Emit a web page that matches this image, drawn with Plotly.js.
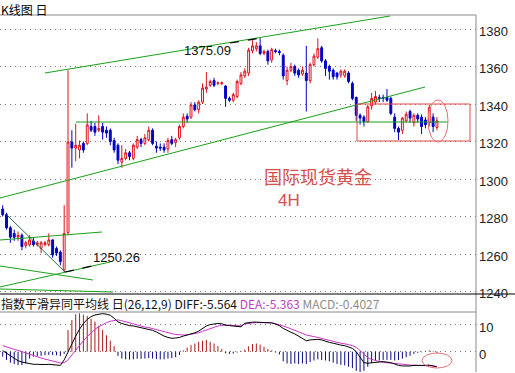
<!DOCTYPE html>
<html><head><meta charset="utf-8">
<script src="https://cdn.plot.ly/plotly-3.0.1.min.js"></script>
<style>html,body{margin:0;padding:0;background:#fff;overflow:hidden}#chart{width:515px;height:373px}</style>
</head><body><div id="chart"></div>
<script>
// ---- price data (4H candles) ----
const openP=[1284,1281,1274,1271,1269,1270,1264.5,1265,1267,1265,1263,1265,1265,1267.5,1263,1261,1251.5,1271.5,1319.7,1316.5,
1315.5,1319,1319,1328,1328,1326,1328,1326,1326,1320.5,1318,1309,1311,1314,1311,1317,1321,1319,1321,1326,
1317.5,1317,1317,1316,1321,1319.5,1322,1328,1333.5,1333,1339.5,1337,1341,1348,1350,1352.5,1351,1351,1349.6,1343,
1342,1344,1351,1355,1356.5,1368.5,1369.5,1371,1367,1368,1363.5,1368.5,1368,1366,1352.5,1358,1360,1358,1356,1356.5,
1352.5,1361,1365,1370,1363,1360,1358,1356.5,1355.5,1355,1356.5,1351,1343.5,1334,1333,1330.5,1339,1341,1343.5,1343.5,
1343.5,1343,1333,1327,1326,1331,1336,1330,1334,1333,1331.5,1330,1333,1327.5];
const highP=[1286,1282,1275,1273,1272,1271,1267,1270,1269,1267,1267,1267,1271,1268,1264,1262,1286,1358,1326,1329.5,
1320.5,1320,1335,1331,1330,1334,1330,1328,1327,1322,1319,1318,1316,1315,1319,1323,1322,1324,1328,1327,
1320,1319,1319,1322,1323,1322,1329,1335,1335,1341,1341,1342,1351,1357,1353,1354,1352,1352,1350,1344,
1346,1353,1357,1359,1370,1374,1373,1375.09,1369,1369,1370,1369.5,1369,1367,1360,1362,1361,1359,1360,1371,
1362,1367,1375,1371,1364,1361,1359,1357,1358.5,1358.5,1357.5,1352,1344,1335,1334,1339.5,1346,1347,1345,1345,
1348,1344,1335,1328,1333,1336,1337,1335,1335,1334.5,1333,1339.5,1335,1333];
const lowP=[1280,1273,1266,1267,1267,1262,1263,1264,1264,1264,1260.5,1264,1264,1258,1259,1254,1250.26,1270,1306,1309.5,
1311,1314,1318,1325,1323,1325,1321,1322,1318,1314,1308,1306,1310,1310,1310,1316,1317,1318,1320,1318,
1314,1315,1314,1314,1318,1317,1321,1327,1330,1332,1336,1335,1340,1346,1349,1349,1350,1350,1338.5,1341,
1341,1343,1350,1354,1355,1367,1368,1366,1366,1361,1362,1367,1366,1353,1350,1357,1355,1354,1355,1336,
1351,1360,1364,1362,1355,1353,1353,1353,1354,1354,1351,1342,1331,1329,1328,1330,1337,1340,1341,1341,
1341,1334,1325,1320.8,1324,1330,1330,1328,1330,1324,1327,1328,1325,1326];
const closeP=[1281,1274,1269,1269,1270,1264,1266,1267.5,1265,1266,1266,1266,1267.5,1259.5,1260.5,1256,1271,1319.7,1316.5,1318,
1318,1315.5,1328.8,1326,1325,1327,1325,1324.5,1320,1315.5,1310,1311,1314,1312,1318,1321,1319,1322,1326,1319,
1316.5,1316.5,1315.5,1320.5,1319,1321,1328,1333,1332,1339.5,1337,1341,1348.5,1349,1352,1350,1351.2,1351.3,1343,1342,
1345,1352,1355.5,1357.5,1368.8,1371,1371,1367,1368,1363,1369,1368,1367.5,1355,1358,1360,1356.5,1355.5,1358,1352.5,
1361,1365.5,1369.5,1363,1359,1357.5,1354.5,1354.5,1357.5,1357.5,1352,1343,1334,1332.5,1330.5,1338.5,1343,1344,1343,1343,
1342,1335,1327,1325,1332.5,1334.5,1332.5,1334,1332,1328,1329,1338,1328,1331];
// ---- MACD (26,12,9) ----
const diffV=[0.4,-0.6,-1.6,-2.6,-3.3,-3.8,-4.1,-4.5,-4.6,-4.6,-4.7,-4.7,-4.6,-4.7,-4.9,-5.0,-3.0,0,3.0,5.7,
8.2,10.3,11.8,12.8,13.4,13.7,13.9,13.7,13.3,12.2,10.9,10.3,9.9,9.5,9.4,9.1,8.9,8.5,8.3,7.8,
7.2,6.4,5.7,5.2,4.9,5.0,5.2,5.7,6.1,6.4,6.9,7.5,8.4,9.4,9.9,10.2,10.3,10.2,9.7,9.5,
9.4,9.1,9.1,10.4,10.7,10.8,10.8,10.7,10.7,10.6,10.5,10.1,9.5,8.5,7.7,7.1,6.5,5.7,4.9,4.0,
4.3,4.5,4.5,4.3,3.8,3.4,3.1,2.7,2.4,2.2,1.8,1.2,0,-2.1,-4.0,-4.2,-4.0,-3.8,-3.6,-3.6,
-3.8,-4.0,-4.5,-5.0,-5.2,-5.3,-5.2,-5.0,-4.9,-5.0,-5.0,-4.9,-5.2,-5.564];
const deaV=[2.2,1.7,1.3,0.85,0.5,0,-0.5,-1.0,-1.45,-1.95,-2.3,-2.7,-3.0,-3.4,-3.8,-4.1,-4.0,-3.0,-1.2,0.6,
2.4,4.0,5.5,6.9,8.2,9.1,10.0,10.6,11.1,11.4,11.6,11.3,10.9,10.6,10.1,9.7,9.4,9.0,8.8,8.4,
8.0,7.7,7.3,6.9,6.6,6.3,6.1,6.1,6.1,6.3,6.6,6.9,7.4,7.9,8.4,8.9,9.4,9.6,9.7,9.7,
9.6,9.5,9.4,10.1,10.4,10.5,10.6,10.6,10.6,10.6,10.6,10.2,9.9,9.4,8.9,8.4,7.9,7.3,6.7,6.1,
5.7,5.5,5.2,4.9,4.5,4.1,3.8,3.4,3.2,2.9,2.6,2.2,1.6,0.4,-1.0,-2.2,-2.8,-3.3,-3.6,-3.9,
-4.0,-4.1,-4.2,-4.5,-4.6,-4.7,-4.9,-5.0,-5.0,-5.1,-5.1,-5.1,-5.2,-5.363];
const macdV=[-1.8,-3.0,-4.0,-4.5,-4.9,-4.9,-4.3,-2.5,-1.8,-1.6,-1.5,-1.3,-1.2,-1.2,-1.3,-1.6,-0.8,7.9,11.5,13.7,
14.0,13.5,13.0,12.0,11.0,9.5,8.0,6.0,4.0,2.0,-1.5,-2.5,-2.8,-2.9,-2.8,-2.6,-2.6,-2.5,-2.3,-2.5,
-2.7,-2.8,-2.8,-2.5,-2.3,-2.0,-1.2,0.5,1.5,2.4,3.0,3.6,4.0,4.3,3.6,3.0,2.0,1.0,-0.6,-0.8,
-0.7,-0.3,0.3,0.8,2.0,2.8,3.0,2.6,1.8,1.0,0.5,-0.3,-1.0,-3.5,-4.3,-4.5,-4.3,-4.5,-4.3,-4.5,
-3.8,-3.2,-2.8,-3.0,-3.2,-3.5,-4.0,-4.5,-4.8,-5.0,-5.5,-6.0,-7.0,-7.5,-7.0,-5.5,-4.0,-3.3,-3.2,-3.0,
-3.0,-3.0,-3.2,-3.0,-2.5,-2.0,-1.5,-0.8,-0.4,-0.2,0.3,0.5,0.2,-0.4027];
const priceTicks=[1240,1260,1280,1300,1320,1340,1360,1380];
const macdTicks=[0,10];

const idx=openP.map((_,i)=>i);
const W=515,H=373,ML=0,MR=39,MT=15,MB=1;
const PW=W-ML-MR, PH=H-MT-MB;
const px=x=>(x-ML)/PW, py=y=>(H-MB-y)/PH;

// histogram as vertical strokes
function stems(sign){const xs=[],ys=[];macdV.forEach((v,i)=>{if(sign>0?v>0:v<=0){xs.push(i,i,null);ys.push(0,v,null);}});return {xs,ys};}
const pos=stems(1), neg=stems(-1);

const traces=[
 {type:'candlestick',x:idx,open:openP,high:highP,low:lowP,close:closeP,xaxis:'x',yaxis:'y',
  increasing:{line:{color:'#e0101a',width:1},fillcolor:'#ffffff'},
  decreasing:{line:{color:'#0000c8',width:1},fillcolor:'#0000c8'},whiskerwidth:0,hoverinfo:'skip'},
 {type:'scatter',mode:'lines',x:pos.xs,y:pos.ys,xaxis:'x2',yaxis:'y2',line:{color:'#b01818',width:1},hoverinfo:'skip'},
 {type:'scatter',mode:'lines',x:neg.xs,y:neg.ys,xaxis:'x2',yaxis:'y2',line:{color:'#0a0a80',width:1},hoverinfo:'skip'},
 {type:'scatter',mode:'lines',x:idx,y:deaV,xaxis:'x2',yaxis:'y2',line:{color:'#cc33cc',width:1},hoverinfo:'skip'},
 {type:'scatter',mode:'lines',x:idx,y:diffV,xaxis:'x2',yaxis:'y2',line:{color:'#000000',width:1},hoverinfo:'skip'}
];

const xr=[-0.7,-0.7+PW/3.843];
const green='#1aa01a';
function seg(x0,y0,x1,y1,color,width,dash){return {type:'line',xref:'paper',yref:'paper',x0:px(x0),y0:py(y0),x1:px(x1),y1:py(y1),line:{color:color,width:width||1,dash:dash||'solid'}};}
const shapes=[
 seg(45,73,390,16,green),
 seg(0,198,425,87,green),
 seg(76,122,448,122,green),
 seg(0,240,102,232,green),
 seg(0,266,93,280,green),
 seg(0,287,110,262,green),
 seg(0,289,113,292,green),
 seg(7,215,65,272,'#1f6f55'),
 seg(230,43,261,38,'#000000',1.2,'dash'),
 seg(65,272,92,266,'#000000',1.2,'dash'),
 {type:'rect',xref:'paper',yref:'paper',x0:px(357),y0:py(104),x1:px(470),y1:py(141),line:{color:'#e04848',width:1}},
 {type:'circle',xref:'paper',yref:'paper',x0:px(428),y0:py(100),x1:px(448),y1:py(142),line:{color:'#e87070',width:1}},
 {type:'circle',xref:'paper',yref:'paper',x0:px(422),y0:py(353),x1:px(452),y1:py(368),line:{color:'#e87070',width:1}},
 seg(0,15,476,15,'#8a8a8a'),
 seg(476,15,476,372,'#8a8a8a'),
 seg(0,312,476,312,'#8a8a8a'),
 seg(0,294,515,294,'#000000')
];
function ann(text,x,y,size,color,anchor,family,yanchor){return {text:text,xref:'paper',yref:'paper',x:px(x),y:py(y),xanchor:anchor||'center',yanchor:yanchor||'middle',showarrow:false,borderpad:0,font:{size:size,color:color,family:family||'Liberation Sans, Arial, sans-serif'}};}
const cjk='Noto Sans CJK SC, sans-serif';
const annotations=[
 ann('K线图 日',0,0,12,'#000','left',cjk,'top'),
 ann('1375.09',207,51,13,'#111'),
 ann('1250.26',116,257,13,'#111'),
 ann('国际现货黄金',318,176,18,'#d8504c','center',cjk),
 ann('4H',289,201,17,'#d8504c','center','Liberation Sans, Arial, sans-serif'),
 ann('指数平滑异同平均线 日(26,12,9) DIFF:-5.564 <span style="color:#c040c0">DEA:-5.363</span> <span style="color:#8c8c8c">MACD:-0.4027</span>',0,303,12,'#111','left',cjk)
];

const layout={width:W,height:H,margin:{l:ML,r:MR,t:MT,b:MB},paper_bgcolor:'#fff',plot_bgcolor:'#fff',showlegend:false,
 xaxis:{domain:[0,1],range:xr,showticklabels:false,showgrid:false,zeroline:false,rangeslider:{visible:false},anchor:'y',fixedrange:true},
 xaxis2:{domain:[0,1],range:xr,showticklabels:false,showgrid:false,zeroline:false,anchor:'y2',matches:'x'},
 yaxis:{domain:[py(294),1],range:[1238.67,1387.47],side:'right',tickvals:priceTicks,showgrid:true,gridcolor:'#777',griddash:'1px,4px',gridwidth:1,zeroline:false,
   tickfont:{size:13,color:'#222',family:'Liberation Sans, Arial, sans-serif'},ticks:'',ticklabelstandoff:2,ticklabelshift:2},
 yaxis2:{domain:[0,py(312)],range:[-7.41,14.49],side:'right',tickvals:macdTicks,showgrid:true,gridcolor:'#777',griddash:'1px,4px',gridwidth:1,zeroline:false,
   tickfont:{size:13,color:'#222',family:'Liberation Sans, Arial, sans-serif'},ticks:'',ticklabelstandoff:2,ticklabelshift:3},
 shapes:shapes,annotations:annotations};
Plotly.newPlot('chart',traces,layout,{staticPlot:true,displayModeBar:false});
</script></body></html>
